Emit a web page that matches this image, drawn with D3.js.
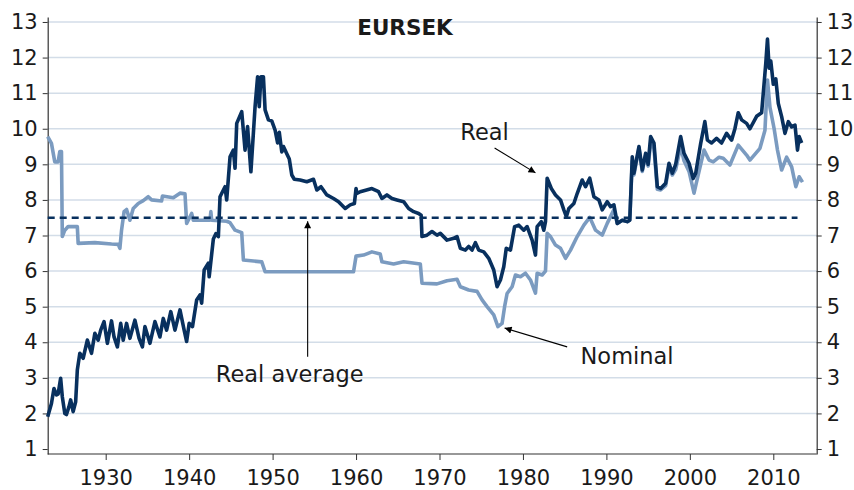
<!DOCTYPE html>
<html>
<head>
<meta charset="utf-8">
<script src="https://cdn.jsdelivr.net/npm/d3@7"></script>
<style>
  body { margin: 0; background: #fff; }
  svg text { font-family: "DejaVu Sans", Verdana, sans-serif; fill: #1a1a1a; }
</style>
</head>
<body>
<div id="chart"></div>
<script>
// EURSEK, real vs nominal (year, rate)
var real = [
  [1923.05,1.91],[1923.5,2.28],[1923.8,2.70],[1924.1,2.52],[1924.3,2.55],[1924.6,2.99],[1924.8,2.47],
  [1925.1,2.00],[1925.3,1.97],[1925.6,2.19],[1925.8,2.38],[1926.1,2.05],[1926.4,2.33],[1926.6,3.22],
  [1926.9,3.69],[1927.3,3.55],[1927.8,4.06],[1928.3,3.69],[1928.7,4.25],[1929.1,4.06],[1929.4,4.34],
  [1929.8,4.58],[1930.2,3.97],[1930.7,4.60],[1931.0,4.15],[1931.4,3.87],[1931.8,4.53],[1932.1,4.06],
  [1932.5,4.53],[1932.9,4.11],[1933.5,4.62],[1934.0,4.11],[1934.4,3.87],[1934.7,4.44],[1935.3,3.97],
  [1935.9,4.58],[1936.5,4.15],[1936.9,4.67],[1937.3,4.34],[1937.8,4.86],[1938.3,4.34],[1938.9,4.91],
  [1939.4,4.34],[1939.7,4.02],[1940.0,4.53],[1940.4,4.44],[1940.9,5.19],[1941.3,5.33],[1941.5,5.10],
  [1941.8,6.03],[1942.3,6.22],[1942.4,5.84],[1942.9,6.90],[1943.2,7.05],[1943.5,6.97],[1943.7,8.09],
  [1944.3,8.37],[1944.5,8.00],[1944.9,9.21],[1945.3,9.40],[1945.5,8.89],[1945.7,10.15],[1946.3,10.48],
  [1946.7,9.40],[1947.0,10.06],[1947.4,8.79],[1947.9,10.62],[1948.2,11.46],[1948.4,10.62],[1948.6,11.46],
  [1948.9,11.46],[1949.1,10.53],[1949.5,10.25],[1949.9,10.22],[1950.3,9.96],[1950.6,9.60],[1950.8,9.90],
  [1951.1,9.35],[1951.3,9.50],[1951.7,9.30],[1952.0,9.15],[1952.3,8.70],[1952.6,8.58],[1953.3,8.56],
  [1954.1,8.51],[1954.9,8.58],[1955.3,8.28],[1955.8,8.37],[1956.5,8.14],[1957.3,8.04],[1957.9,7.95],
  [1958.7,7.76],[1959.3,7.86],[1959.8,7.90],[1960.0,8.32],[1960.1,8.18],[1960.5,8.23],[1961.9,8.32],
  [1962.7,8.23],[1963.1,8.04],[1963.7,8.14],[1964.3,8.04],[1964.9,8.00],[1965.7,7.95],[1966.3,7.76],
  [1966.9,7.67],[1967.5,7.62],[1967.8,7.57],[1967.9,6.97],[1968.5,7.01],[1969.1,7.11],[1969.7,7.01],
  [1970.1,7.06],[1970.9,6.87],[1971.7,6.92],[1972.1,6.97],[1972.5,6.64],[1973.1,6.59],[1973.5,6.69],
  [1973.9,6.59],[1974.3,6.80],[1974.7,6.59],[1975.3,6.54],[1975.9,6.36],[1976.5,6.03],[1976.9,5.56],
  [1977.3,5.75],[1977.7,6.12],[1978.0,6.64],[1978.5,6.59],[1979.0,7.25],[1979.5,7.29],[1980.1,7.15],
  [1980.5,7.25],[1981.1,6.87],[1981.5,6.45],[1981.7,7.25],[1982.2,7.39],[1982.5,7.15],[1982.7,7.39],
  [1982.9,8.61],[1983.4,8.32],[1983.9,8.14],[1984.5,8.00],[1984.9,7.72],[1985.2,7.53],[1985.5,7.76],
  [1986.1,7.90],[1986.5,8.18],[1987.1,8.56],[1987.5,8.37],[1988.0,8.61],[1988.5,8.09],[1989.1,8.00],
  [1989.5,7.72],[1990.1,7.95],[1990.5,7.81],[1990.9,7.86],[1991.3,7.34],[1991.9,7.43],[1992.5,7.39],
  [1992.8,7.43],[1993.1,9.21],[1993.3,8.75],[1993.9,9.50],[1994.3,8.84],[1994.7,9.31],[1995.0,9.00],
  [1995.3,9.78],[1995.7,9.60],[1996.1,8.37],[1996.5,8.32],[1997.1,8.47],[1997.5,9.03],[1997.9,8.75],
  [1998.3,9.00],[1998.9,9.78],[1999.3,9.31],[1999.9,9.03],[2000.4,8.60],[2000.7,8.75],[2001.3,9.59],
  [2001.8,10.20],[2002.1,9.68],[2002.6,9.60],[2003.2,9.73],[2003.8,9.60],[2004.4,9.87],[2005.0,9.68],
  [2005.4,10.00],[2005.8,10.45],[2006.2,10.25],[2006.8,10.15],[2007.2,10.00],[2008.0,10.35],[2008.6,10.45],
  [2009.1,11.84],[2009.3,12.52],[2009.5,11.70],[2009.7,11.90],[2010.0,11.25],[2010.3,11.40],[2010.6,10.71],
  [2011.0,10.34],[2011.4,9.87],[2011.8,10.20],[2012.2,10.05],[2012.6,10.10],[2012.9,9.40],[2013.1,9.78],
  [2013.4,9.60]
];

var nominal = [
  [1923.05,9.78],[1923.5,9.59],[1923.9,9.07],[1924.3,9.07],[1924.5,9.36],[1924.7,9.36],[1924.8,6.97],
  [1925.1,7.15],[1925.5,7.25],[1926.6,7.25],[1926.7,6.78],[1928.7,6.80],[1930.7,6.76],[1931.5,6.75],
  [1931.7,6.64],[1931.9,7.15],[1932.2,7.67],[1932.5,7.73],[1932.9,7.43],[1933.3,7.76],[1933.9,7.90],
  [1934.5,7.98],[1935.1,8.09],[1935.5,8.00],[1936.7,7.97],[1936.8,8.11],[1938.1,8.06],[1938.9,8.19],
  [1939.5,8.17],[1939.7,7.34],[1940.3,7.62],[1940.5,7.43],[1942.5,7.43],[1942.6,7.67],[1942.7,7.43],
  [1944.5,7.40],[1944.9,7.36],[1945.5,7.15],[1946.3,7.08],[1946.5,6.31],[1948.7,6.26],[1949.1,5.98],
  [1959.7,5.98],[1960.0,6.42],[1960.9,6.45],[1961.9,6.54],[1962.9,6.48],[1963.1,6.26],[1964.5,6.20],
  [1965.7,6.26],[1967.7,6.20],[1967.9,5.66],[1969.7,5.64],[1970.9,5.73],[1972.1,5.77],[1972.5,5.56],
  [1973.5,5.47],[1974.5,5.43],[1975.1,5.19],[1975.7,5.00],[1976.5,4.77],[1977.0,4.44],[1977.5,4.53],
  [1977.8,5.00],[1978.1,5.37],[1978.7,5.56],[1979.1,5.89],[1979.7,5.84],[1980.3,5.94],[1980.9,5.75],
  [1981.5,5.38],[1981.7,5.94],[1982.3,5.89],[1982.7,6.00],[1982.9,7.06],[1983.3,6.97],[1983.9,6.73],
  [1984.5,6.64],[1985.1,6.36],[1985.7,6.59],[1986.5,6.97],[1987.3,7.29],[1988.0,7.51],[1988.7,7.15],
  [1989.5,7.01],[1990.1,7.34],[1990.9,7.73],[1991.3,7.34],[1991.9,7.43],[1992.5,7.39],[1992.8,7.43],
  [1993.1,9.10],[1993.3,8.70],[1993.9,9.45],[1994.3,8.80],[1994.7,9.25],[1995.0,8.95],[1995.3,9.60],
  [1995.7,9.45],[1996.1,8.30],[1996.5,8.28],[1997.1,8.40],[1997.5,8.95],[1997.9,8.70],[1998.3,8.85],
  [1998.9,9.50],[1999.3,9.10],[1999.9,8.80],[2000.5,8.19],[2000.8,8.50],[2001.3,9.00],[2001.7,9.40],
  [2002.3,9.12],[2002.8,9.07],[2003.5,9.20],[2004.0,9.17],[2004.8,8.98],[2005.8,9.54],[2006.8,9.26],
  [2007.2,9.12],[2008.4,9.45],[2009.0,9.96],[2009.3,11.37],[2009.6,10.60],[2010.1,10.00],[2010.5,9.40],
  [2011.0,8.84],[2011.6,9.20],[2012.2,8.93],[2012.7,8.37],[2013.1,8.65],[2013.5,8.50]
];

var realAverage = 7.5;
var averageSpan = [1923.05, 2012.9];
var yTicks = [1,2,3,4,5,6,7,8,9,10,11,12,13];
var xTicks = [1930,1940,1950,1960,1970,1980,1990,2000,2010];

// labels with arrows, in data units
var notes = [
  {text: "Real", tx: 1972.5, ty: 9.68, from: [1976.6, 9.46], to: [1981.5, 8.76]},
  {text: "Real average", tx: 1943.2, ty: 2.88, from: [1954.2, 3.59], to: [1954.2, 7.40]},
  {text: "Nominal", tx: 1986.9, ty: 3.39, from: [1985.3, 3.87], to: [1977.8, 4.40]}
];

var width = 854, height = 490;
var mLeft = 47.7, mRight = 816.7, mTop = 17, mBottom = 454;

var svg = d3.select("#chart").append("svg")
            .attr("width", width)
            .attr("height", height);

svg.append("defs").append("marker")
   .attr("id", "arrow")
   .attr("viewBox", "0 0 10 10")
   .attr("refX", 10).attr("refY", 5)
   .attr("markerWidth", 10).attr("markerHeight", 7)
   .attr("markerUnits", "userSpaceOnUse")
   .attr("orient", "auto")
   .append("path")
   .attr("d", "M0,0L10,5L0,10z")
   .attr("fill", "#000");

var x = d3.scaleLinear().domain([1923.05, 2015.2]).range([mLeft, mRight]);
var y = d3.scaleLinear().domain([0.86, 13.14]).range([mBottom, mTop]);

// gridlines
svg.append("g").selectAll("line")
   .data(yTicks.filter(function(d) { return d > 1; }))
   .enter().append("line")
   .attr("x1", mLeft).attr("x2", mRight)
   .attr("y1", function(d) { return y(d); })
   .attr("y2", function(d) { return y(d); })
   .attr("stroke", "#d3dde8")
   .attr("stroke-width", 1.5);

// axes
var fontSize = "21px";
var yLeft = svg.append("g")
   .attr("transform", "translate(" + mLeft + ",0)")
   .call(d3.axisLeft(y).tickValues(yTicks).tickSize(5).tickSizeOuter(0).tickPadding(5));
var yRight = svg.append("g")
   .attr("transform", "translate(" + mRight + ",0)")
   .call(d3.axisRight(y).tickValues(yTicks).tickSize(5).tickSizeOuter(0).tickPadding(5));
var xAxis = svg.append("g")
   .attr("transform", "translate(0," + mBottom + ")")
   .call(d3.axisBottom(x).tickValues(xTicks).tickFormat(d3.format("d")).tickSize(6).tickSizeOuter(0).tickPadding(10));

[yLeft, yRight, xAxis].forEach(function(g) {
  g.selectAll("text").style("font-size", fontSize).style("font-family", "DejaVu Sans, Verdana, sans-serif").attr("fill", "#1a1a1a");
  g.selectAll("line").attr("stroke", "#333");
  g.select(".domain").attr("stroke", "#333").attr("stroke-width", 1.2);
});
xAxis.select(".domain").attr("d", "M" + mLeft + ",0H" + mRight);

// lines
var line = d3.line()
             .x(function(d) { return x(d[0]); })
             .y(function(d) { return y(d[1]); });

svg.append("path")
   .attr("d", line(nominal))
   .attr("fill", "none")
   .attr("stroke", "#7b9bc0")
   .attr("stroke-width", 3.6)
   .attr("stroke-linejoin", "round");

svg.append("path")
   .attr("d", line(real))
   .attr("fill", "none")
   .attr("stroke", "#08305e")
   .attr("stroke-width", 3.6)
   .attr("stroke-linejoin", "round");

// real average
svg.append("line")
   .attr("x1", x(averageSpan[0])).attr("x2", x(averageSpan[1]))
   .attr("y1", y(realAverage)).attr("y2", y(realAverage))
   .attr("stroke", "#08305e")
   .attr("stroke-width", 2.6)
   .attr("stroke-dasharray", "7,5");

// title
svg.append("text")
   .attr("x", 405).attr("y", 35)
   .attr("text-anchor", "middle")
   .style("font-size", "21.5px")
   .style("font-weight", "bold")
   .text("EURSEK");

// annotations
notes.forEach(function(n) {
  svg.append("line")
     .attr("x1", x(n.from[0])).attr("y1", y(n.from[1]))
     .attr("x2", x(n.to[0])).attr("y2", y(n.to[1]))
     .attr("stroke", "#000")
     .attr("stroke-width", 1.1)
     .attr("marker-end", "url(#arrow)");
  svg.append("text")
     .attr("x", x(n.tx)).attr("y", y(n.ty))
     .style("font-size", "22.5px")
     .text(n.text);
});
</script>
</body>
</html>
